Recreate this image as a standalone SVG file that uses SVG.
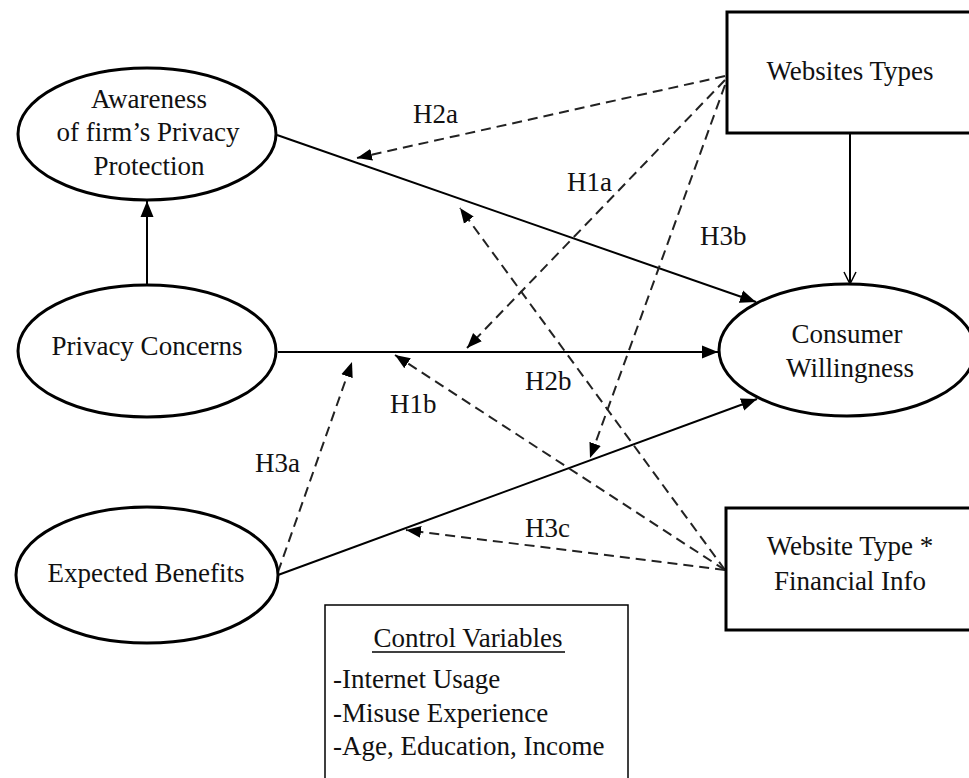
<svg xmlns="http://www.w3.org/2000/svg" width="969" height="778" viewBox="0 0 969 778">
  <style>
    .node-shape { fill: #ffffff; stroke: #000000; stroke-width: 3; }
    .ctrl-shape { fill: #ffffff; stroke: #000000; stroke-width: 1.5; }
    .label { font-family: "Liberation Serif", "Times New Roman", serif; font-size: 27px; fill: #111111; }
    .hyp { font-family: "Liberation Serif", "Times New Roman", serif; font-size: 27px; fill: #111111; }
    .solid { fill: none; stroke: #000000; stroke-width: 2; }
    .dashed { fill: none; stroke: #222222; stroke-width: 2; stroke-dasharray: 10 6; }
  </style>
  <defs>
    <marker id="head" markerUnits="userSpaceOnUse" markerWidth="17" markerHeight="14" refX="16" refY="7" orient="auto">
      <path d="M0,0.5 L16,7 L0,13.5 z" fill="#000000"/>
    </marker>
    <marker id="head-dash" markerUnits="userSpaceOnUse" markerWidth="16" markerHeight="13" refX="15" refY="6.5" orient="auto">
      <path d="M0,0.5 L15,6.5 L0,12.5 z" fill="#000000"/>
    </marker>
    <marker id="head-open" markerUnits="userSpaceOnUse" markerWidth="14" markerHeight="14" refX="13" refY="7" orient="auto">
      <path d="M1,1 L13,7 L1,13" fill="none" stroke="#000000" stroke-width="1.5"/>
    </marker>
  </defs>

  <rect width="969" height="778" fill="#ffffff"/>

  <!-- connectors -->
  <g id="connectors">
    <!-- direct effects -->
    <line class="solid" x1="147" y1="285" x2="147" y2="201" marker-end="url(#head)"/>
    <line class="solid" x1="277" y1="135" x2="756" y2="302" marker-end="url(#head)"/>
    <line class="solid" x1="278" y1="352" x2="718" y2="352" marker-end="url(#head)"/>
    <line class="solid" x1="278" y1="575" x2="757" y2="399" marker-end="url(#head)"/>
    <line class="solid" x1="850" y1="134" x2="850" y2="284" marker-end="url(#head-open)"/>
    <!-- moderating effects from Websites Types -->
    <line class="dashed" x1="725" y1="76" x2="357" y2="158" marker-end="url(#head-dash)"/>
    <line class="dashed" x1="725" y1="80" x2="467" y2="348" marker-end="url(#head-dash)"/>
    <line class="dashed" x1="725" y1="85" x2="590" y2="458" marker-end="url(#head-dash)"/>
    <!-- moderating effects from Website Type * Financial Info -->
    <line class="dashed" x1="725" y1="570" x2="460" y2="208" marker-end="url(#head-dash)"/>
    <line class="dashed" x1="725" y1="570" x2="395" y2="355" marker-end="url(#head-dash)"/>
    <line class="dashed" x1="725" y1="570" x2="406" y2="530" marker-end="url(#head-dash)"/>
    <!-- Expected Benefits moderation -->
    <line class="dashed" x1="278" y1="572" x2="352" y2="362" marker-end="url(#head-dash)"/>
  </g>

  <!-- hypothesis labels -->
  <g id="hypotheses">
    <text class="hyp" x="413" y="123">H2a</text>
    <text class="hyp" x="567" y="191">H1a</text>
    <text class="hyp" x="700" y="245">H3b</text>
    <text class="hyp" x="525" y="390">H2b</text>
    <text class="hyp" x="390" y="413">H1b</text>
    <text class="hyp" x="255" y="472">H3a</text>
    <text class="hyp" x="525" y="537">H3c</text>
  </g>

  <g id="awareness">
    <ellipse class="node-shape" cx="147" cy="134" rx="129" ry="66"/>
    <text class="label" text-anchor="middle" x="149" y="108">Awareness</text>
    <text class="label" text-anchor="middle" x="148" y="141">of firm’s Privacy</text>
    <text class="label" text-anchor="middle" x="149" y="175">Protection</text>
  </g>

  <g id="privacy-concerns">
    <ellipse class="node-shape" cx="147" cy="351" rx="129" ry="66"/>
    <text class="label" text-anchor="middle" x="147" y="355">Privacy Concerns</text>
  </g>

  <g id="expected-benefits">
    <ellipse class="node-shape" cx="147" cy="575" rx="131" ry="68"/>
    <text class="label" text-anchor="middle" x="146" y="582">Expected Benefits</text>
  </g>

  <g id="consumer-willingness">
    <ellipse class="node-shape" cx="847" cy="350" rx="128" ry="66"/>
    <text class="label" text-anchor="middle" x="847" y="343">Consumer</text>
    <text class="label" text-anchor="middle" x="850" y="377">Willingness</text>
  </g>

  <g id="websites-types">
    <rect class="node-shape" x="727" y="12" width="260" height="121"/>
    <text class="label" text-anchor="middle" x="850" y="80">Websites Types</text>
  </g>

  <g id="website-type-financial">
    <rect class="node-shape" x="726" y="508" width="260" height="122"/>
    <text class="label" text-anchor="middle" x="850" y="555">Website Type *</text>
    <text class="label" text-anchor="middle" x="850" y="590">Financial Info</text>
  </g>

  <g id="control-variables">
    <rect class="ctrl-shape" x="325" y="605" width="303" height="190"/>
    <text class="label" text-anchor="middle" x="468" y="647">Control Variables</text>
    <line x1="372" y1="652" x2="565" y2="652" stroke="#000000" stroke-width="1.5"/>
    <text class="label" x="333" y="688">-Internet Usage</text>
    <text class="label" x="333" y="722">-Misuse Experience</text>
    <text class="label" x="333" y="755">-Age, Education, Income</text>
  </g>
</svg>
